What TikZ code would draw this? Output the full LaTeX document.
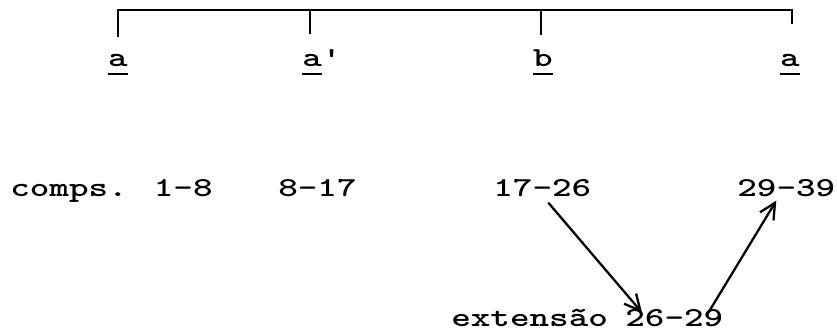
\documentclass[tikz,border=0pt]{standalone}
\usepackage{fontspec}
\usetikzlibrary{arrows.meta}
\newfontfamily\typewriter{lmmonolt10-bold.otf}[FakeStretch=1.36]
% underline drawn a little below the letter
\newcommand{\ulmark}[1]{\setbox0\hbox{#1}\rlap{\rule[-4.6pt]{\wd0}{1.3pt}}\box0}

\begin{document}
\begin{tikzpicture}[x=0.02cm,y=-0.02cm,font=\typewriter\fontsize{15.6}{19}\selectfont,
  lbl/.style={inner sep=0pt,anchor=base west},
  link/.style={-{Straight Barb[length=9pt,width=9pt,line width=1.3pt]},line width=1.3pt}]
  \useasboundingbox (0,0) rectangle (837,333);
  % bracket over the sections
  \draw[line width=1.2pt] (118,37)--(118,10)--(792,10)--(792,24);
  \foreach \x/\y in {310/34,541/35} {\draw[line width=1.2pt] (\x,10)--(\x,\y);}
  \node[inner sep=0pt,anchor=base] (sa) at (118,67) {\ulmark{a}};
  \node[lbl] (sa2) at (302,67) {\ulmark{a}'};
  \node[inner sep=0pt,anchor=base] (sb) at (543,67) {\ulmark{b}};
  \node[inner sep=0pt,anchor=base] (sa3) at (790,67) {\ulmark{a}};
  % measures
  \node[lbl] (r18) at (10,197) {comps. 1-8};
  \node[lbl] (r817) at (278,197) {8-17};
  \node[lbl] (r1726) at (493,197) {17-26};
  \node[lbl] (r2939) at (737,197) {29-39};
  \node[lbl] (ext) at (451,327) {extensão};
  \node[lbl] (r2629) at (625,327) {26-29};
  \draw[link] ([shift={(6,5)}]r1726.south) -- ([shift={(17,3)}]r2629.north west);
  \draw[link] ([shift={(-17,6)}]r2629.north east) -- ([shift={(-10,3)}]r2939.south);
\end{tikzpicture}
\end{document}
